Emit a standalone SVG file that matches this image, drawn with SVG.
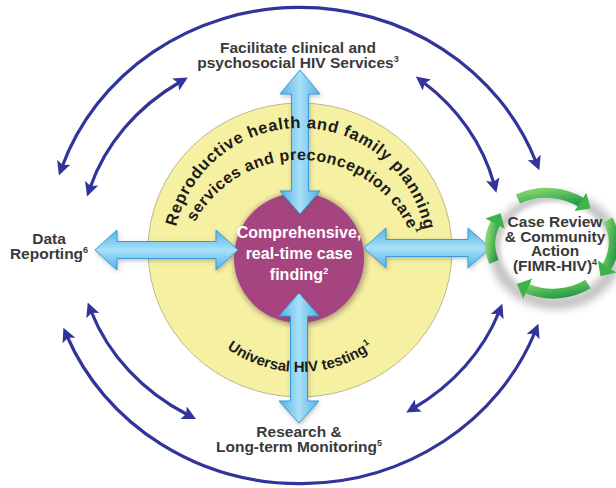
<svg xmlns="http://www.w3.org/2000/svg" width="616" height="488" viewBox="0 0 616 488">
  <defs>
    <style>
      .lbl { font-family: "Liberation Sans", Arial, sans-serif; font-weight: bold; font-size: 15.5px; fill: #3a3a3a; text-anchor: middle; }
      .arc-txt { font-family: "Liberation Sans", Arial, sans-serif; font-weight: bold; fill: #1c1c1c; }
      .inner { font-family: "Liberation Sans", Arial, sans-serif; font-weight: bold; font-size: 16px; fill: #ffffff; text-anchor: middle; }
      .sup { font-size: 9px; }
      .cycle { fill: none; stroke: #31349a; stroke-width: 3.2; marker-start: url(#navyHead); marker-end: url(#navyHead); }
      .link { stroke: #3a9ad6; stroke-width: 1; stroke-linejoin: round; }
      .green { fill: none; stroke: url(#greenGrad); stroke-width: 10; marker-end: url(#greenHead); }
    </style>
    <marker id="navyHead" viewBox="0 0 14 14" refX="5" refY="7" markerWidth="14" markerHeight="14" markerUnits="userSpaceOnUse" orient="auto-start-reverse">
      <path d="M0,0 L14,7 L0,14 L3,7 Z" fill="#31349a"/>
    </marker>
    <marker id="greenHead" viewBox="0 0 12 22" refX="2" refY="11" markerWidth="12" markerHeight="22" markerUnits="userSpaceOnUse" orient="auto">
      <path d="M0,0 L12,11 L0,22 Z" fill="#3db34a"/>
    </marker>
    <linearGradient id="vGrad" x1="0" y1="0" x2="1" y2="0">
      <stop offset="0" stop-color="#4fb2e8"/>
      <stop offset="0.5" stop-color="#a9e0f8"/>
      <stop offset="1" stop-color="#4fb2e8"/>
    </linearGradient>
    <linearGradient id="hGrad" x1="0" y1="0" x2="0" y2="1">
      <stop offset="0" stop-color="#4fb2e8"/>
      <stop offset="0.5" stop-color="#a9e0f8"/>
      <stop offset="1" stop-color="#4fb2e8"/>
    </linearGradient>
    <linearGradient id="greenGrad" x1="0" y1="0" x2="1" y2="1">
      <stop offset="0" stop-color="#7fd36a"/>
      <stop offset="1" stop-color="#239a45"/>
    </linearGradient>
    <filter id="soft" x="-20%" y="-20%" width="140%" height="140%">
      <feGaussianBlur stdDeviation="2.5"/>
    </filter>
    <filter id="haze" x="-30%" y="-30%" width="160%" height="160%">
      <feGaussianBlur stdDeviation="4"/>
    </filter>
    <filter id="shade" x="-20%" y="-20%" width="140%" height="140%">
      <feDropShadow dx="1" dy="2" stdDeviation="2" flood-color="#555" flood-opacity="0.35"/>
    </filter>
    <path id="rhLine" d="M173,255 A127,127 0 0 1 427,255"/>
    <path id="svcLine" d="M180,280 A120,120 0 0 1 420,280"/>
    <path id="testLine" d="M175,247 A125,125 0 0 0 425,247"/>
  </defs>

  <rect width="616" height="488" fill="#ffffff"/>

  <!-- core rings -->
  <g id="rings">
    <ellipse cx="300" cy="250" rx="152" ry="147" fill="#f6f0a2" stroke="#bdb88c" stroke-width="1"/>
    <circle cx="300" cy="259" r="67" fill="#6d4a55" opacity="0.45" filter="url(#soft)"/>
    <circle cx="299" cy="258" r="65" fill="#a6447f"/>
  </g>

  <!-- outer feedback arcs -->
  <g id="connectors">
    <path class="cycle" d="M62,167 A252,238 0 0 1 536,162"/>
    <path class="cycle" d="M67,336 A252,238 0 0 0 535,332"/>
    <path class="cycle" d="M90,188 A220,194 0 0 1 180,82"/>
    <path class="cycle" d="M423,82 A220,194 0 0 1 494,184"/>
    <path class="cycle" d="M91,311 A220,194 0 0 0 188,415"/>
    <path class="cycle" d="M414,408 A220,194 0 0 0 499,312"/>

    <!-- light blue two-way links -->
    <g filter="url(#shade)">
      <polygon class="link" fill="url(#vGrad)" points="300,70 320,94 308.5,94 308.5,191 320,191 300,214 280,191 291.5,191 291.5,94 280,94"/>
      <polygon class="link" fill="url(#vGrad)" points="299,293 319,316 307.5,316 307.5,401 319,401 299,423 279,401 290.5,401 290.5,316 279,316"/>
      <polygon class="link" fill="url(#hGrad)" points="95,250 117,230 117,241.5 216,241.5 216,230 238,250 216,270 216,258.5 117,258.5 117,270"/>
      <polygon class="link" fill="url(#hGrad)" points="364,248 386,228 386,239.5 468,239.5 468,228 490,248 468,268 468,256.5 386,256.5 386,268"/>
    </g>
  </g>

  <!-- curved ring captions -->
  <g id="ring-text">
    <text class="arc-txt" font-size="16.5" letter-spacing="0.7"><textPath href="#rhLine" startOffset="50.5%" text-anchor="middle">Reproductive health and family planning</textPath></text>
    <text class="arc-txt" font-size="16" letter-spacing="0.5"><textPath href="#svcLine" startOffset="52%" text-anchor="middle">services and preconception care<tspan class="sup" dx="1" baseline-shift="6">1</tspan></textPath></text>
    <text class="arc-txt" font-size="15"><textPath href="#testLine" startOffset="50%" text-anchor="middle">Universal HIV testing<tspan class="sup" dx="1" baseline-shift="6">1</tspan></textPath></text>
  </g>

  <g id="case-finding">
    <text class="inner" x="299" y="238">Comprehensive,</text>
    <text class="inner" x="299" y="259">real-time case</text>
    <text class="inner" x="299" y="280">finding<tspan class="sup" baseline-shift="6">2</tspan></text>
  </g>

  <g id="services">
    <text class="lbl" x="298" y="53">Facilitate clinical and</text>
    <text class="lbl" x="298" y="68">psychosocial HIV Services<tspan class="sup" baseline-shift="6">3</tspan></text>
  </g>

  <g id="data-reporting">
    <text class="lbl" x="49" y="244">Data</text>
    <text class="lbl" x="49" y="259">Reporting<tspan class="sup" baseline-shift="6">6</tspan></text>
  </g>

  <g id="research">
    <text class="lbl" x="299" y="437">Research &amp;</text>
    <text class="lbl" x="299" y="452">Long-term Monitoring<tspan class="sup" baseline-shift="6">5</tspan></text>
  </g>

  <g id="case-review">
    <!-- grey cast shadow under the green cycle, white disc inside -->
    <ellipse cx="556" cy="251" rx="60" ry="52" fill="none" stroke="#8a8a8a" stroke-width="12" opacity="0.55" filter="url(#haze)"/>
    <ellipse cx="553" cy="246" rx="52" ry="44" fill="#ffffff" filter="url(#soft)"/>
    <path class="green" d="M518,199 A60,52 0 0 1 582,203"/>
    <path class="green" d="M608,220 A60,52 0 0 1 606,268"/>
    <path class="green" d="M588,284 A60,52 0 0 1 526,288"/>
    <path class="green" d="M494,262 A60,52 0 0 1 496,222"/>
    <text class="lbl" x="555" y="227">Case Review</text>
    <text class="lbl" x="555" y="242">&amp; Community</text>
    <text class="lbl" x="555" y="256">Action</text>
    <text class="lbl" x="555" y="271">(FIMR-HIV)<tspan class="sup" baseline-shift="6">4</tspan></text>
  </g>
</svg>
